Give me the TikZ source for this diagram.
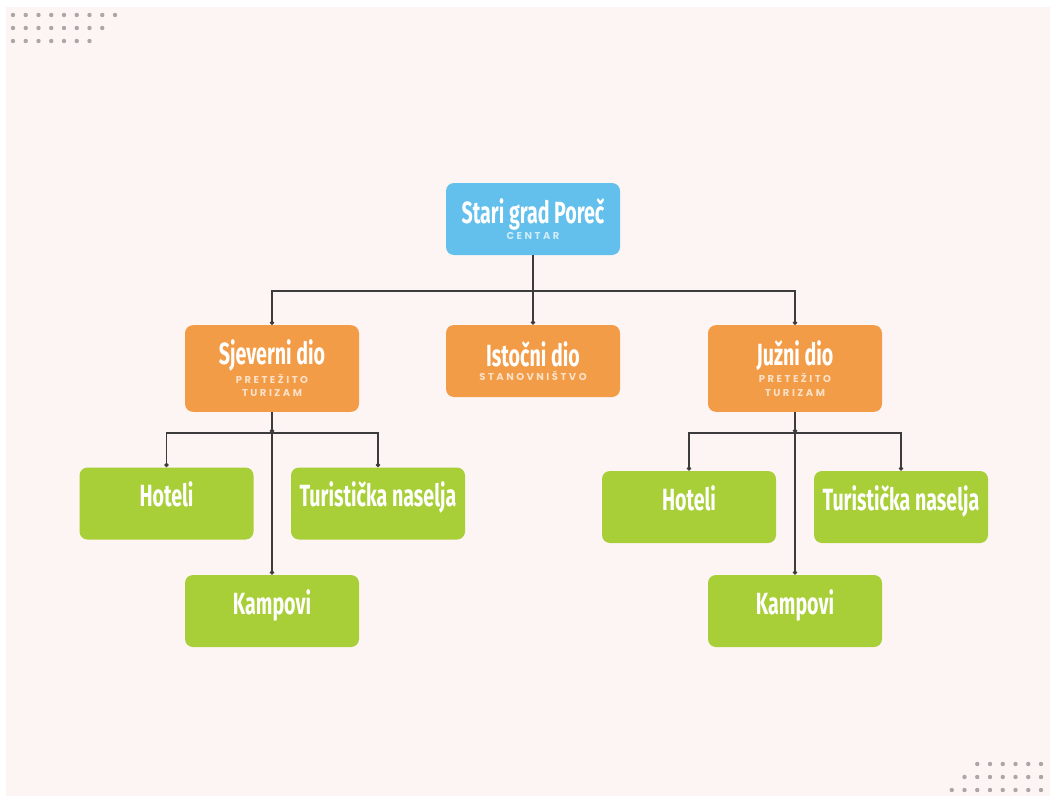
\documentclass[tikz,border=0pt]{standalone}
\usepackage{fontspec}
\usepackage{xcolor}
\usetikzlibrary{arrows.meta}
\newfontfamily\headfont[FakeStretch=0.64]{Fira Sans}
\newfontfamily\tagfont[LetterSpace=25]{Poppins}
\definecolor{bgpink}{HTML}{FDF5F3}
\definecolor{dotgray}{HTML}{ADA5A6}
\definecolor{skyblue}{HTML}{63BFEB}
\definecolor{tanorange}{HTML}{F39C47}
\definecolor{leafgreen}{HTML}{A8CF38}
\definecolor{linegray}{HTML}{3C3C3C}
\newcommand{\tagline}[2]{{\tagfont\fontsize{7.5}{10}\selectfont\color{white!70!#1}#2}}

\begin{document}
\begin{tikzpicture}[x=0.75pt,y=-0.75pt,
    box/.style={rounded corners=6pt,minimum width=130.5pt,minimum height=54pt,
      text=white,align=center,inner sep=0pt,
      font=\headfont\bfseries\fontsize{23}{10}\selectfont},
    topbox/.style={box,fill=skyblue},
    midbox/.style={box,fill=tanorange},
    leafbox/.style={box,fill=leafgreen,text height=16.5pt,text depth=12pt},
    link/.style={draw=linegray,line width=0.9pt,-{Circle[length=3.2pt]}}]
    \useasboundingbox (0,0) rectangle (1050,796);
    \fill[white] (0,0) rectangle (1050,796);
    \fill[bgpink] (6,7) rectangle (1050,796);
    %% dots in the corners
    \foreach \row/\n in {0/9,1/8,2/7}
      \foreach \i in {1,...,\n}
        \fill[dotgray] (13+12.75*\i-12.75,15+13*\row) circle (2.2);
    \foreach \row/\n in {0/6,1/7,2/8}
      \foreach \i in {1,...,\n}
        \fill[dotgray] (1041-12.75*\i+12.75,764+13*\row) circle (2.2);
    %%
    \node[topbox] (centar) at (533,219) {Stari grad Poreč\\[1pt]\tagline{skyblue}{CENTAR}};
    \node[midbox,minimum height=65pt] (sjev) at (272,368.5)
      {Sjeverni dio\\[1pt]\tagline{tanorange}{PRETEŽITO}\\\tagline{tanorange}{TURIZAM}};
    \node[midbox] (istoc) at (533,361) {Istočni dio\\[1pt]\tagline{tanorange}{STANOVNIŠTVO}};
    \node[midbox,minimum height=65pt] (juzni) at (795,368.5)
      {Južni dio\\[1pt]\tagline{tanorange}{PRETEŽITO}\\\tagline{tanorange}{TURIZAM}};
    \coordinate (jtop) at (533,291);
    \draw[link] (centar) to (istoc);
    \draw[link] (jtop) -| (sjev);
    \draw[link] (jtop) -| (juzni);
    %%
    \begin{scope}
      \node[leafbox] (lhot) at (166.5,503.5) {Hoteli};
      \node[leafbox] (ltur) at (378,503.5) {Turistička naselja};
      \node[leafbox] (lkamp) at (272,611) {Kampovi};
      \coordinate (jsjev) at (272,433);
      \draw[link] (sjev) to (jsjev);
      \draw[link] (jsjev) -| (lhot);
      \draw[link] (jsjev) -| (ltur);
      \draw[link] (jsjev) to (lkamp);
    \end{scope}
    %%
    \begin{scope}
      \node[leafbox] (rhot) at (689,507) {Hoteli};
      \node[leafbox] (rtur) at (901,507) {Turistička naselja};
      \node[leafbox] (rkamp) at (795,611) {Kampovi};
      \coordinate (jjuz) at (795,433);
      \draw[link] (juzni) to (jjuz);
      \draw[link] (jjuz) -| (rhot);
      \draw[link] (jjuz) -| (rtur);
      \draw[link] (jjuz) to (rkamp);
    \end{scope}
  \end{tikzpicture}
\end{document}
